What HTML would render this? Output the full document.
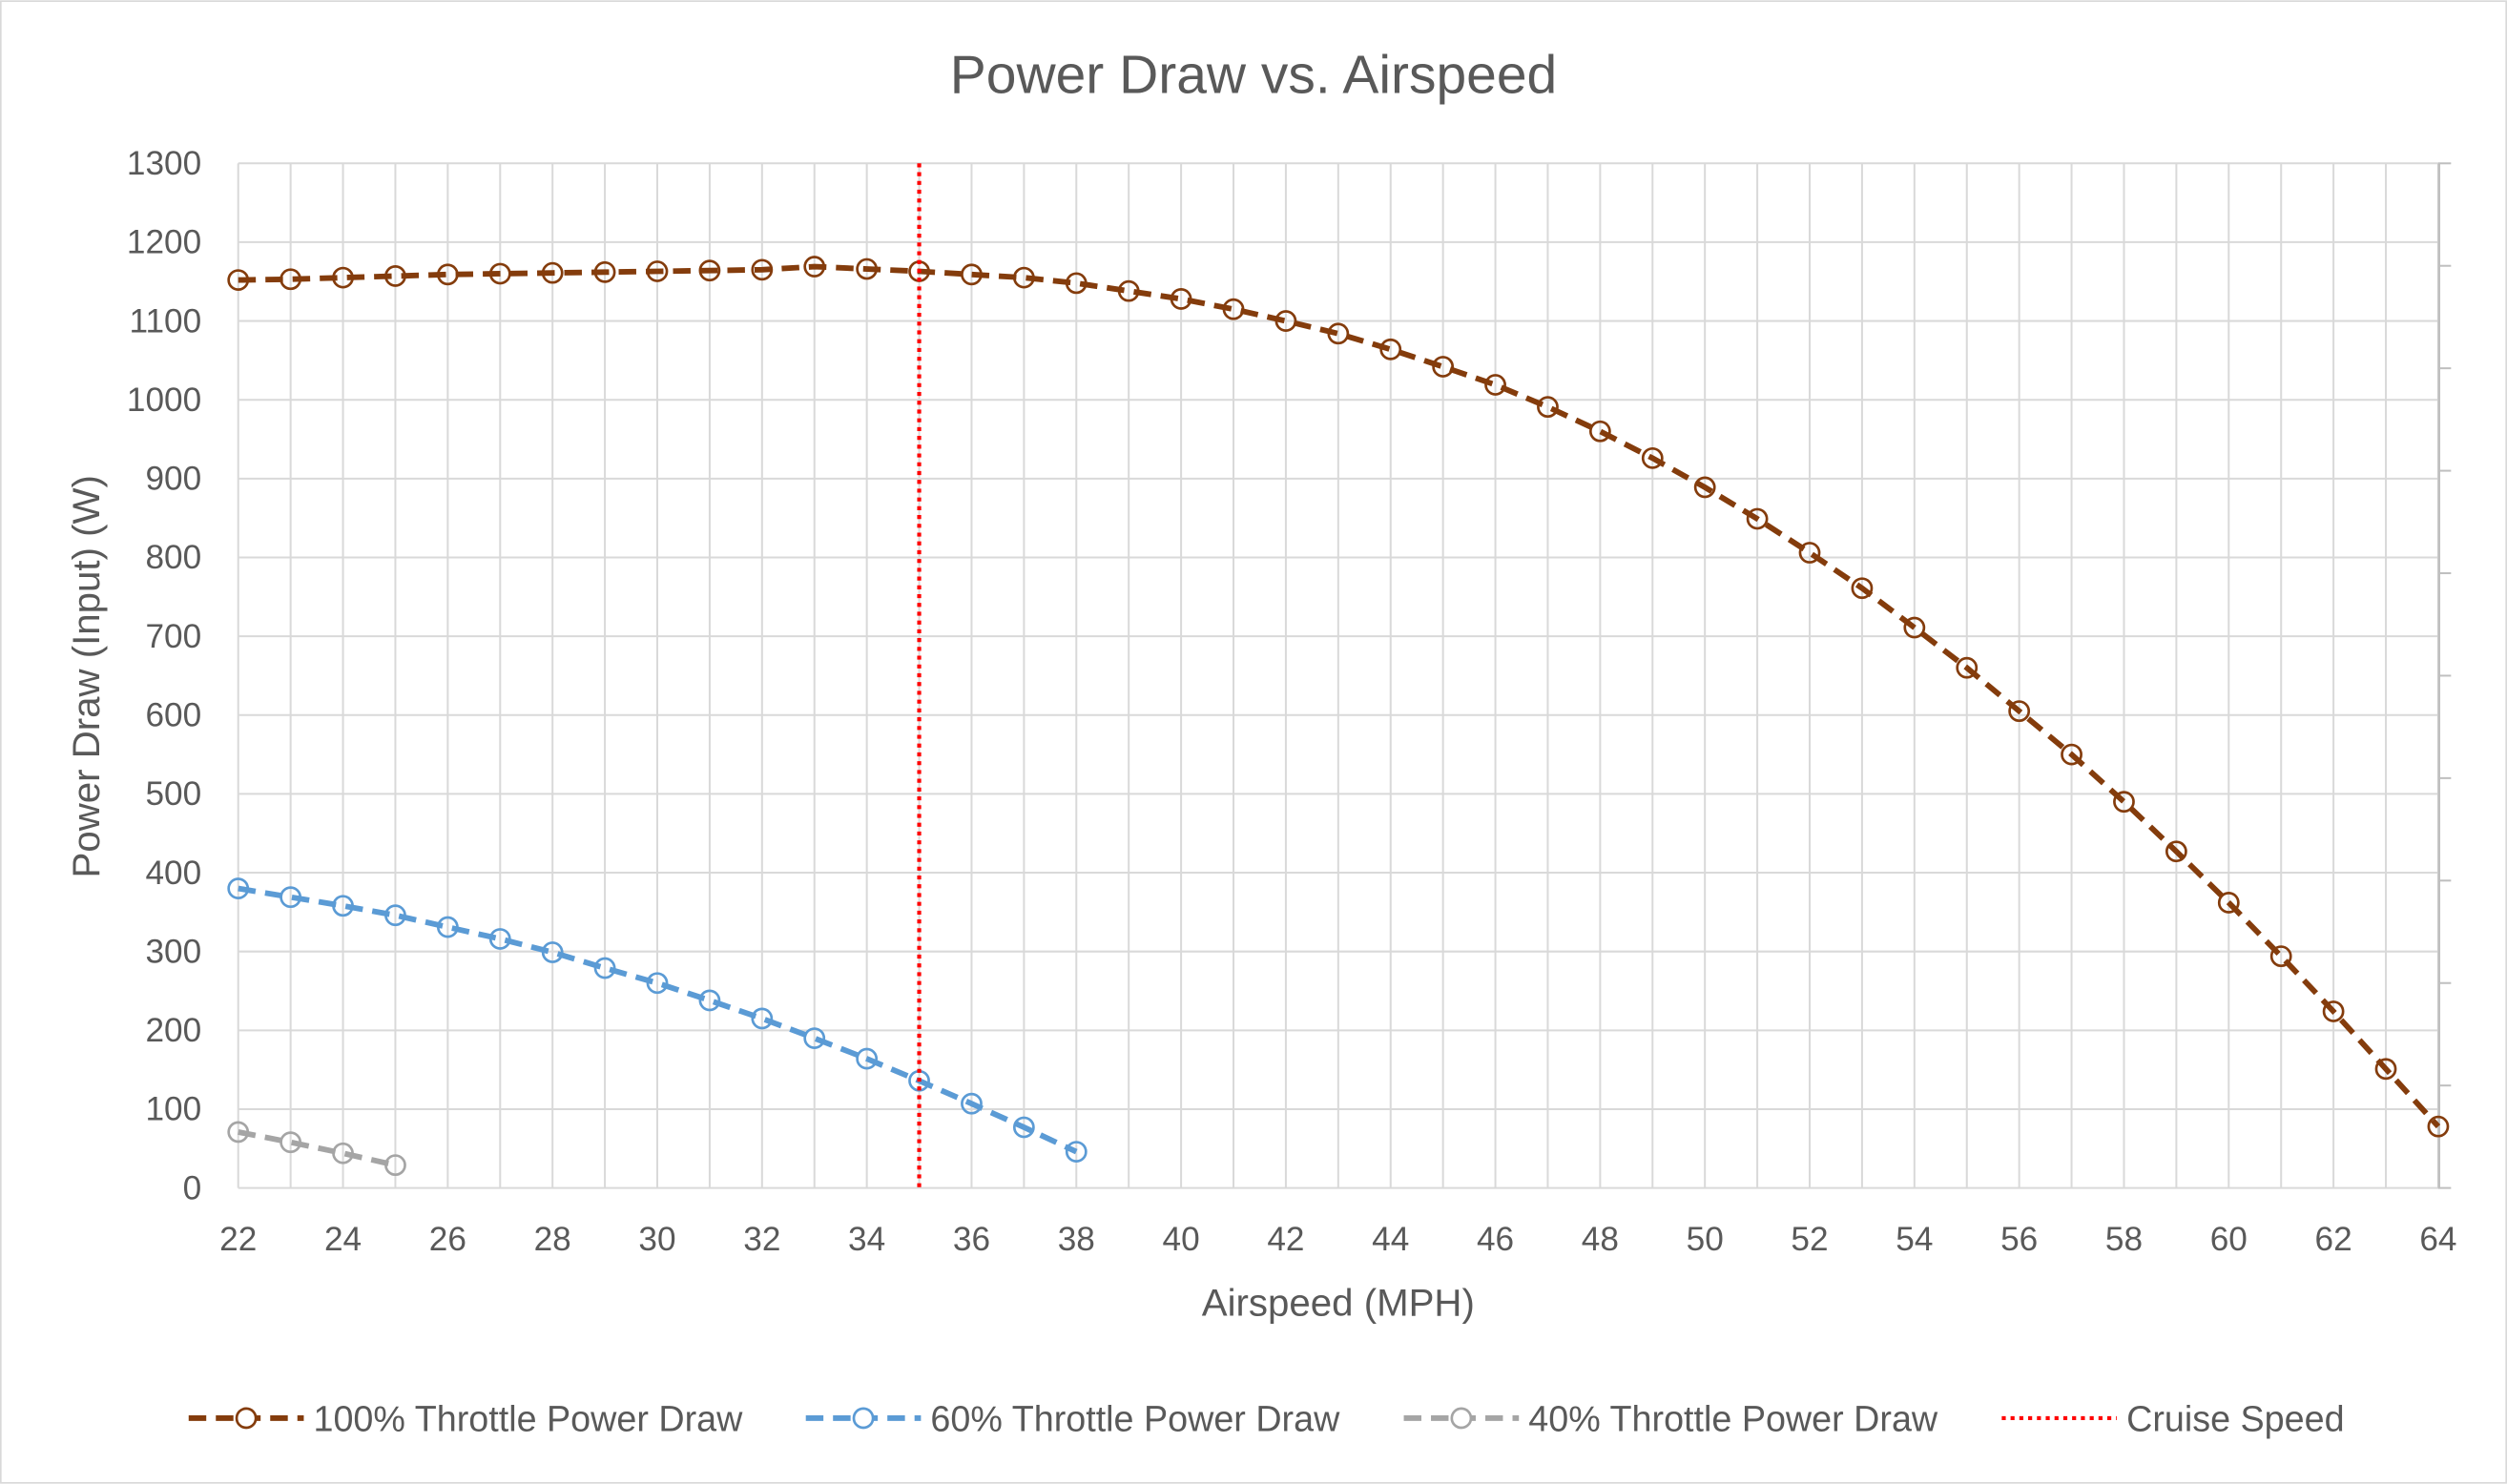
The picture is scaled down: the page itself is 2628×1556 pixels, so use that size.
<!DOCTYPE html>
<html><head><meta charset="utf-8"><style>
html,body{margin:0;padding:0;background:#fff}
svg{display:block}
text{font-family:"Liberation Sans",sans-serif;fill:#595959}
</style></head><body>
<svg id="chart" width="2628" height="1556" viewBox="0 0 1568 928" xmlns="http://www.w3.org/2000/svg">
<rect x="0.5" y="0.5" width="1567" height="927" fill="#fff" stroke="#d9d9d9"/>
<text x="784" y="58" font-size="34" text-anchor="middle">Power Draw vs. Airspeed</text>
<g id="grid"></g><g id="series"></g>
<text x="837" y="823" font-size="24" text-anchor="middle">Airspeed (MPH)</text>
<text transform="translate(62,423) rotate(-90)" font-size="24" text-anchor="middle">Power Draw (Input) (W)</text>
<g id="legend"></g>
</svg>
<script>
const xs=[22,23,24,25,26,27,28,29,30,31,32,33,34,35,36,37,38,39,40,41,42,43,44,45,46,47,48,49,50,51,52,53,54,55,56,57,58,59,60,61,62,63,64];
const p100=[1152,1153,1155,1157,1159,1160,1161,1162,1163,1164,1165,1169,1166,1163,1159,1155,1148,1138,1128,1115,1100,1084,1064,1042,1019,991,960,926,889,849,806,761,711,660,605,550,490,427,362,294,224,151,78];
const x60=[22,23,24,25,26,27,28,29,30,31,32,33,34,35,36,37,38];
const p60=[380,369,358,346,331,316,299,279,260,238,215,190,164,136,107,77,46];
const x40=[22,23,24,25];
const p40=[71,58,44,29];
const cruise=35;
const yTicks=[0,100,200,300,400,500,600,700,800,900,1000,1100,1200,1300];
const NS='http://www.w3.org/2000/svg';
const X=v=>149+(v-22)*(1376/42), Y=v=>743-v*(641/1300);
function el(t,a,p){const e=document.createElementNS(NS,t);for(const k in a)e.setAttribute(k,a[k]);p.appendChild(e);return e;}
const g=document.getElementById('grid');
for(let v=22;v<=64;v++){const l=el('line',{x1:X(v),x2:X(v),y1:102,y2:743,stroke:'#d9d9d9','stroke-width':1.2},g);


if(v%2==0){const t=el('text',{x:X(v),y:782,'font-size':21,'text-anchor':'middle'},g);t.textContent=v;

}}
yTicks.forEach(v=>{const l=el('line',{x1:149,x2:1525,y1:Y(v),y2:Y(v),stroke:'#d9d9d9','stroke-width':1.2},g);


const t=el('text',{x:126,y:Y(v)+7,'font-size':21,'text-anchor':'end'},g);t.textContent=v;

});
const ra=el('line',{x1:1525.5,x2:1525.5,y1:102,y2:743,stroke:'#bfbfbf','stroke-width':1.5},g);


for(let i=0;i<=10;i++){const tk=el('line',{x1:1525,x2:1533,y1:102+i*64.1,y2:102+i*64.1,stroke:'#bfbfbf','stroke-width':1.2},g);

}
const s=document.getElementById('series');
function series(xa,ya,col,name){const pts=xa.map((x,i)=>X(x)+','+Y(ya[i])).join(' ');
const pl=el('polyline',{points:pts,fill:'none',stroke:col,'stroke-width':3.5,'stroke-dasharray':'11,6'},s);


xa.forEach((x,i)=>{const c=el('circle',{cx:X(x),cy:Y(ya[i]),r:6,fill:'none',stroke:col,'stroke-width':1.6},s);

});}
series(x40,p40,'#a5a5a5','throttle-40');
series(x60,p60,'#5b9bd5','throttle-60');
series(xs,p100,'#843c0c','throttle-100');
const cl=el('line',{x1:X(cruise),x2:X(cruise),y1:102,y2:743,stroke:'#ff0000','stroke-width':2.5,'stroke-dasharray':'2.5,3'},s);


const lg=document.getElementById('legend');
[['100% Throttle Power Draw','#843c0c',118,true],['60% Throttle Power Draw','#5b9bd5',504,true],['40% Throttle Power Draw','#a5a5a5',878,true],['Cruise Speed','#ff0000',1252,false]].forEach(([t,c,x,m])=>{
const gg=el('g',{},lg);


el('line',{x1:x,x2:x+72,y1:887,y2:887,stroke:c,'stroke-width':m?3.5:2.5,'stroke-dasharray':m?'11,6':'2.5,3'},gg);
if(m)el('circle',{cx:x+36,cy:887,r:6,fill:'#fff',stroke:c,'stroke-width':1.6},gg);
const tx=el('text',{x:x+78,y:895,'font-size':22.5},gg);tx.textContent=t;});
</script>
</body></html>
